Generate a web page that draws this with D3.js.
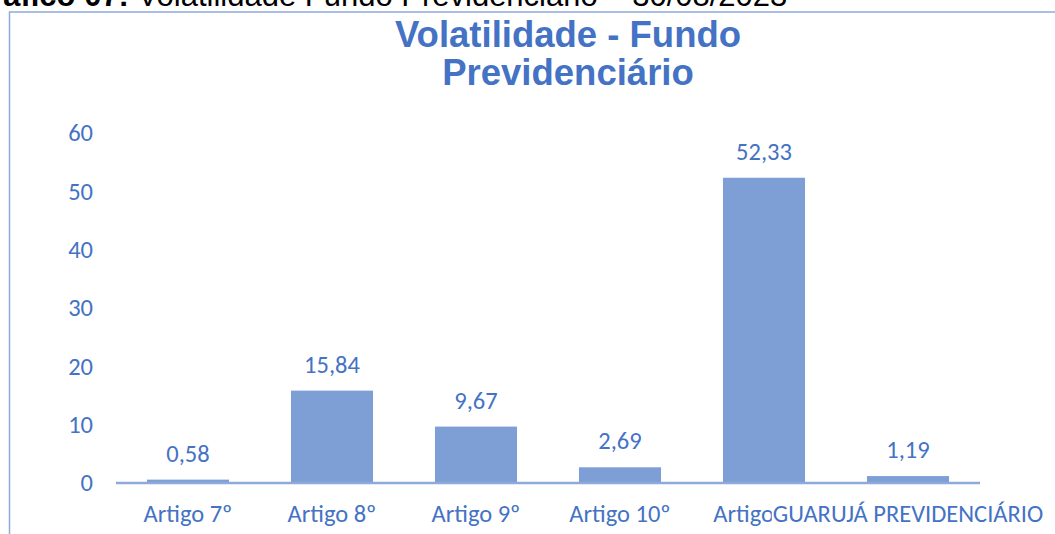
<!DOCTYPE html>
<html>
<head>
<meta charset="utf-8">
<script src="https://cdn.jsdelivr.net/npm/d3@7"></script>
<style>
  body { margin: 0; background: #fff; }
  svg { display: block; }
</style>
</head>
<body>
<div id="chart"></div>
<script>
// data
var categories = ["Artigo 7º", "Artigo 8º", "Artigo 9º", "Artigo 10º", "Artigo 11º", "GUARUJÁ PREVIDENCIÁRIO"];
var values = [0.58, 15.84, 9.67, 2.69, 52.33, 1.19];
var yTicks = [0, 10, 20, 30, 40, 50, 60];
var titleLines = ["Volatilidade - Fundo", "Previdenciário"];
var captionBold = "Gráfico 07:";
var captionRest = " Volatilidade Fundo Previdenciário – 30/08/2023";

var width = 1055,
    height = 534,
    blue = "#4472c4",
    barColor = "#7e9fd6",
    lineColor = "#8eaadb",
    labelFont = "Calibri, Carlito, 'Open Sans', sans-serif",
    labelSize = "24.5px";

var fmt = d3.formatLocale({ decimal: ",", thousands: ".", grouping: [3], currency: ["R$", ""] }).format(".2f");

var svg = d3.select("#chart").append("svg")
    .attr("width", width)
    .attr("height", height);

// caption cut off at the top of the page
svg.append("text")
    .attr("x", -33)
    .attr("y", 6)
    .style("font-family", "'Liberation Sans', Arial, sans-serif")
    .style("font-size", "31px")
    .attr("fill", "#000")
    .call(function(t) {
      t.append("tspan").style("font-weight", "bold").text(captionBold);
      t.append("tspan").text(captionRest);
    });

// chart frame (only top and left edges are visible)
svg.append("path")
    .attr("d", "M9.5," + height + "V12H" + width)
    .attr("fill", "none")
    .attr("stroke", lineColor)
    .attr("stroke-width", 1.5);

// title
svg.append("text")
    .attr("text-anchor", "middle")
    .attr("fill", blue)
    .style("font-family", "'Liberation Sans', Arial, sans-serif")
    .style("font-weight", "bold")
    .style("font-size", "36.5px")
    .selectAll("tspan").data(titleLines)
    .enter().append("tspan")
    .attr("x", 568)
    .attr("y", function(d, i) { return 47 + i * 38; })
    .text(function(d) { return d; });

var x = d3.scaleBand()
    .domain(categories)
    .range([116, 980])
    .paddingInner(0.43)
    .paddingOuter(0.215);

var y = d3.scaleLinear()
    .domain([0, 60])
    .range([483, 133]);

// y axis labels
var yAxis = svg.append("g")
    .attr("transform", "translate(93,0)")
    .call(d3.axisLeft(y).tickValues(yTicks).tickSize(0).tickPadding(0));
yAxis.select(".domain").remove();
yAxis.selectAll("text")
    .attr("fill", blue)
    .style("font-family", labelFont)
    .style("font-size", labelSize);

// bars
svg.append("g").selectAll("rect")
    .data(values)
    .enter().append("rect")
    .attr("x", function(d, i) { return x(categories[i]); })
    .attr("y", function(d) { return y(d); })
    .attr("width", x.bandwidth())
    .attr("height", function(d) { return y(0) - y(d); })
    .attr("fill", barColor);

// category axis line
svg.append("line")
    .attr("x1", x.range()[0])
    .attr("x2", x.range()[1])
    .attr("y1", y(0))
    .attr("y2", y(0))
    .attr("stroke", lineColor)
    .attr("stroke-width", 2.5);

// data labels
svg.append("g").selectAll("text")
    .data(values)
    .enter().append("text")
    .attr("x", function(d, i) { return x(categories[i]) + x.bandwidth() / 2; })
    .attr("y", function(d) { return y(d) - 18; })
    .attr("text-anchor", "middle")
    .attr("fill", blue)
    .style("font-family", labelFont)
    .style("font-size", labelSize)
    .text(function(d) { return fmt(d); });

// category labels; the last one overlaps and hides the end of the one before
var catG = svg.append("g");
categories.forEach(function(c, i) {
  var cx = x(c) + x.bandwidth() / 2;
  var t = catG.append("text")
      .attr("x", cx)
      .attr("y", 522)
      .attr("text-anchor", "middle")
      .attr("fill", blue)
      .style("font-family", labelFont)
      .style("font-size", labelSize)
      .text(c);
  if (i === categories.length - 1) {
    var b = t.node().getBBox();
    catG.insert("rect", function() { return t.node(); })
        .attr("x", b.x - 1)
        .attr("y", b.y)
        .attr("width", b.width + 2)
        .attr("height", b.height)
        .attr("fill", "#fff");
  }
});
</script>
</body>
</html>
